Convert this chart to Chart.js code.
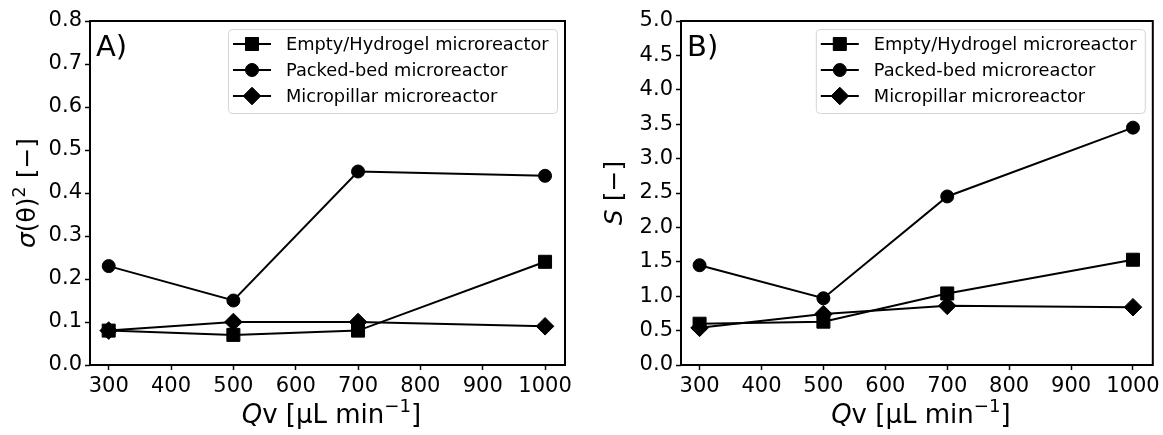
<!DOCTYPE html>
<html>
<head>
<meta charset="utf-8">
<script src="https://cdn.jsdelivr.net/npm/chart.js@4.4.0/dist/chart.umd.min.js"></script>
<style>
  html, body { margin: 0; padding: 0; background: #fff; }
  #wrap { position: relative; width: 1163px; height: 435px; }
  #wrap canvas { position: absolute; top: 0; }
</style>
</head>
<body>
<div id="wrap">
  <canvas id="chart-a" width="580" height="435" style="left:0"></canvas>
  <canvas id="chart-b" width="583" height="435" style="left:580px"></canvas>
</div>
<script>
// --- data ---
const flowRates = [300, 500, 700, 1000];
const seriesNames = ['Empty/Hydrogel microreactor', 'Packed-bed microreactor', 'Micropillar microreactor'];
const markerStyles = ['rect', 'circle', 'rectRot'];
const markerRadius = [9.2, 6.5, 8.8];

// A) variance sigma(theta)^2
const varEmpty = [0.08, 0.07, 0.08, 0.24];
const varPacked = [0.23, 0.15, 0.45, 0.44];
const varPillar = [0.08, 0.10, 0.10, 0.09];

// B) S
const sEmpty = [0.60, 0.63, 1.04, 1.53];
const sPacked = [1.45, 0.97, 2.45, 3.45];
const sPillar = [0.54, 0.74, 0.86, 0.84];

const FONT = "'DejaVu Sans', sans-serif";

const xTitle = [{t: 'Q', it: true}, {t: 'v [µL min'}, {t: '−1', sup: true}, {t: ']'}];
const yTitleA = [{t: 'σ', it: true}, {t: '(θ)'}, {t: '2', sup: true}, {t: ' [−]'}];
const yTitleB = [{t: 'S', it: true}, {t: ' [−]'}];

// texte mixte (italique / exposant)
function drawParts(ctx, parts, x, y, size) {
    const fontOf = p => `${p.it ? 'italic ' : ''}${p.sup ? size * 0.7 : size}px ${FONT}`;
    let total = 0;
    parts.forEach(p => { ctx.font = fontOf(p); p.w = ctx.measureText(p.t).width; total += p.w; });
    let cx = x - total / 2;
    ctx.textAlign = 'left';
    ctx.textBaseline = 'alphabetic';
    parts.forEach(p => {
        ctx.font = fontOf(p);
        ctx.fillText(p.t, cx, p.sup ? y - size * 0.42 : y);
        cx += p.w;
    });
}

function drawMarker(ctx, style, r, x, y) {
    ctx.beginPath();
    if (style === 'circle') {
        ctx.arc(x, y, r, 0, Math.PI * 2);
    } else if (style === 'rect') {
        const s = r * Math.SQRT1_2;
        ctx.rect(x - s, y - s, 2 * s, 2 * s);
    } else {
        ctx.moveTo(x, y - r); ctx.lineTo(x + r, y); ctx.lineTo(x, y + r); ctx.lineTo(x - r, y);
        ctx.closePath();
    }
    ctx.fill();
    ctx.stroke();
}

function makeDecor(cfg) {
    return {
        id: 'decor',
        afterDraw(chart) {
            const ctx = chart.ctx;
            const a = chart.chartArea;
            ctx.save();
            ctx.fillStyle = '#000';
            ctx.strokeStyle = '#000';

            // cadre
            ctx.lineWidth = 2;
            ctx.strokeRect(a.left, a.top, a.right - a.left, a.bottom - a.top);

            // légende
            const lw = 329, lh = 84;
            const lx = a.right - 8 - lw, ly = a.top + 8;
            ctx.lineWidth = 1;
            ctx.strokeStyle = '#d5d5d5';
            ctx.beginPath();
            ctx.roundRect(lx + 0.5, ly + 0.5, lw, lh, 4);
            ctx.fillStyle = 'rgba(255,255,255,0.8)';
            ctx.fill();
            ctx.stroke();
            chart.data.datasets.forEach((ds, i) => {
                const ry = ly + 15 + i * 26;
                ctx.strokeStyle = '#000';
                ctx.fillStyle = '#000';
                ctx.lineWidth = 2;
                ctx.beginPath();
                ctx.moveTo(lx + 5, ry); ctx.lineTo(lx + 43, ry);
                ctx.stroke();
                ctx.lineWidth = 1;
                drawMarker(ctx, ds.pointStyle, ds.pointRadius, lx + 24, ry);
                ctx.font = `17.8px ${FONT}`;
                ctx.textAlign = 'left';
                ctx.textBaseline = 'middle';
                ctx.fillText(ds.label, lx + 58, ry + 1);
            });

            // étiquette du panneau
            ctx.fillStyle = '#000';
            ctx.font = `29px ${FONT}`;
            ctx.textAlign = 'left';
            ctx.textBaseline = 'alphabetic';
            ctx.fillText(cfg.label, a.left + 6, a.top + 35);

            // titres des axes
            drawParts(ctx, xTitle, (a.left + a.right) / 2 + 4, a.bottom + 58, 26);
            ctx.save();
            ctx.translate(cfg.yTitleX, (a.top + a.bottom) / 2);
            ctx.rotate(-Math.PI / 2);
            drawParts(ctx, cfg.yTitle, 0, 0, 25);
            ctx.restore();

            ctx.restore();
        }
    };
}

function makeChart(id, series, yMax, yStep, leftW, padRight, decor) {
    return new Chart(document.getElementById(id), {
        type: 'line',
        data: {
            datasets: series.map((vals, i) => ({
                label: seriesNames[i],
                data: flowRates.map((x, j) => ({x, y: vals[j]})),
                borderColor: '#000',
                backgroundColor: '#000',
                borderWidth: 2,
                pointStyle: markerStyles[i],
                pointRadius: markerRadius[i],
                pointBorderWidth: 1,
                pointBackgroundColor: '#000',
                pointBorderColor: '#000',
                order: series.length - i
            }))
        },
        options: {
            responsive: false,
            animation: false,
            devicePixelRatio: 1,
            layout: { padding: { top: 21, right: padRight, bottom: 0, left: 0 } },
            plugins: { legend: { display: false }, tooltip: { enabled: false } },
            scales: {
                x: {
                    type: 'linear', min: 270, max: 1032,
                    afterFit: s => { s.height = 70; s.paddingLeft = 0; s.paddingRight = 0; },
                    ticks: {
                        stepSize: 100, includeBounds: false, autoSkip: false, maxRotation: 0,
                        callback: v => String(v),
                        font: { family: FONT, size: 21 }, color: '#000', padding: 4
                    },
                    grid: { drawOnChartArea: false, drawTicks: true, tickLength: 5, tickWidth: 1.5, tickColor: '#000' },
                    border: { display: false }
                },
                y: {
                    min: 0, max: yMax,
                    afterFit: s => { s.width = leftW; s.paddingTop = 0; s.paddingBottom = 0; },
                    ticks: {
                        stepSize: yStep, callback: v => v.toFixed(1),
                        font: { family: FONT, size: 21 }, color: '#000', padding: 3
                    },
                    grid: { drawOnChartArea: false, drawTicks: true, tickLength: 5, tickWidth: 1.5, tickColor: '#000' },
                    border: { display: false }
                }
            }
        },
        plugins: [makeDecor(decor)]
    });
}

makeChart('chart-a', [varEmpty, varPacked, varPillar], 0.8, 0.1, 90, 15,
    { label: 'A)', yTitle: yTitleA, yTitleX: 35 });
makeChart('chart-b', [sEmpty, sPacked, sPillar], 5, 0.5, 101, 9,
    { label: 'B)', yTitle: yTitleB, yTitleX: 42 });
</script>
</body>
</html>
